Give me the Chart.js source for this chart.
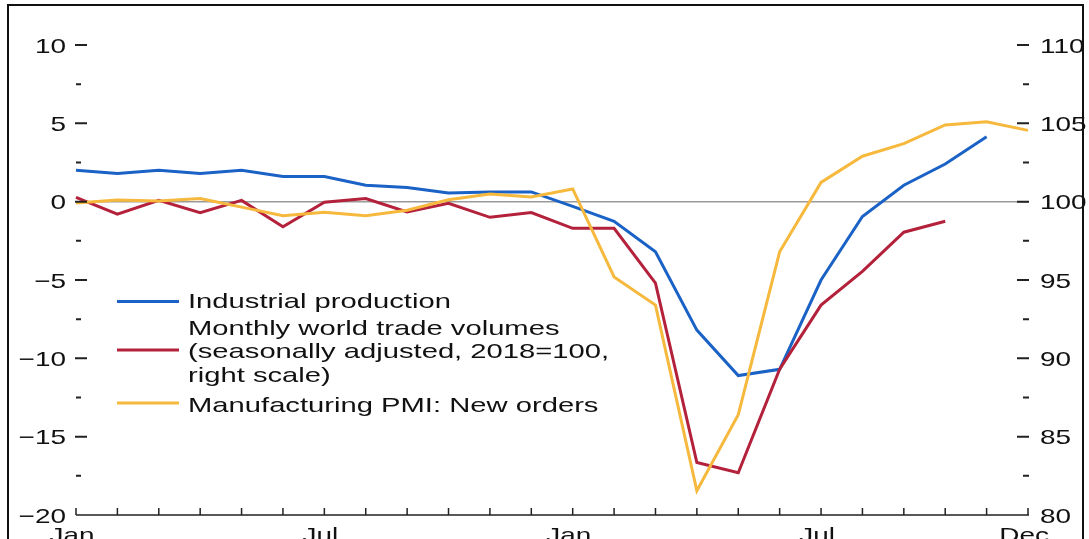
<!DOCTYPE html>
<html>
<head>
<meta charset="utf-8">
<script src="https://cdn.jsdelivr.net/npm/chart.js@4.4.1/dist/chart.umd.min.js"></script>
<style>
  html, body { margin: 0; padding: 0; background: #fff; overflow: hidden; }
  canvas { display: block; }
</style>
</head>
<body>
<canvas id="chart" width="1089" height="539"></canvas>
<script>
// Months, Jan. 2019 .. Dec. 2020
const months = [
  "2019-01", "2019-02", "2019-03", "2019-04", "2019-05", "2019-06",
  "2019-07", "2019-08", "2019-09", "2019-10", "2019-11", "2019-12",
  "2020-01", "2020-02", "2020-03", "2020-04", "2020-05", "2020-06",
  "2020-07", "2020-08", "2020-09", "2020-10", "2020-11", "2020-12"
];
const xTickLabels = { 0: "Jan.", 6: "Jul.", 12: "Jan.", 18: "Jul.", 23: "Dec." };

// left scale
const industrialProduction = [
  2.0, 1.8, 2.0, 1.8, 2.0, 1.6, 1.6, 1.05, 0.9, 0.55, 0.62, 0.62,
  -0.3, -1.26, -3.2, -8.2, -11.1, -10.7, -5.0, -0.95, 1.05, 2.4, 4.15, null
];
const pmiNewOrders = [
  -0.08, 0.1, 0.05, 0.2, -0.35, -0.9, -0.68, -0.9, -0.55, 0.12, 0.49, 0.3,
  0.81, -4.8, -6.6, -18.45, -13.6, -3.2, 1.23, 2.9, 3.7, 4.9, 5.1, 4.55
];
// right scale
const tradeVolumes = [
  100.27, 99.2, 100.08, 99.3, 100.08, 98.4, 99.96, 100.2, 99.34, 99.9, 99.0, 99.3,
  98.3, 98.3, 94.8, 83.35, 82.7, 89.3, 93.4, 95.55, 98.05, 98.75, null, null
];

const leftTicks = [10, 5, 0, -5, -10, -15, -20];
const rightTicks = [110, 105, 100, 95, 90, 85, 80];

const BLUE = "#1b62c6";
const RED = "#b3213b";
const YELLOW = "#f6b93d";
const TEXT = "#111";
const FONT = "21px 'Liberation Sans', Arial, sans-serif";
const TICK_STRETCH = 1.33;
const LEGEND_STRETCH = 1.39;

const legendItems = [
  { color: BLUE, lineY: 301.5, lines: [["Industrial production", 308]] },
  { color: RED, lineY: 350, lines: [
      ["Monthly world trade volumes", 335],
      ["(seasonally adjusted, 2018=100,", 358],
      ["right scale)", 382]
  ] },
  { color: YELLOW, lineY: 403, lines: [["Manufacturing PMI: New orders", 412]] }
];

function wideText(ctx, text, x, y, align, sx) {
  ctx.save();
  ctx.translate(x, y);
  ctx.scale(sx, 1);
  ctx.textAlign = align;
  ctx.textBaseline = "alphabetic";
  ctx.fillText(text, 0, 0);
  ctx.restore();
}

const decorPlugin = {
  id: "decor",
  beforeDraw(chart) {
    const ctx = chart.ctx;
    ctx.save();
    ctx.fillStyle = "#fff";
    ctx.fillRect(0, 0, chart.width, chart.height);
    ctx.restore();
  },
  beforeDatasetsDraw(chart) {
    // zero line
    const ctx = chart.ctx;
    const a = chart.chartArea;
    const y0 = chart.scales.y.getPixelForValue(0);
    ctx.save();
    ctx.strokeStyle = "#9a9a9a";
    ctx.lineWidth = 1.5;
    ctx.beginPath();
    ctx.moveTo(a.left, y0);
    ctx.lineTo(a.right, y0);
    ctx.stroke();
    ctx.restore();
  },
  afterDraw(chart) {
    const ctx = chart.ctx;
    const a = chart.chartArea;
    const x = chart.scales.x, y = chart.scales.y, y1 = chart.scales.y1;
    ctx.save();

    // x axis line and inward ticks
    ctx.strokeStyle = "#222";
    ctx.lineWidth = 1.5;
    ctx.beginPath();
    ctx.moveTo(a.left, a.bottom);
    ctx.lineTo(a.right + 1, a.bottom);
    months.forEach((m, i) => {
      const px = x.getPixelForValue(i);
      ctx.moveTo(px, a.bottom);
      ctx.lineTo(px, a.bottom - 7);
    });
    ctx.stroke();

    // y dashes (major + minor), both sides
    ctx.lineWidth = 2;
    ctx.beginPath();
    for (let v = -17.5; v <= 10; v += 2.5) {
      const major = v % 5 === 0;
      const py = y.getPixelForValue(v);
      ctx.moveTo(a.left + (major ? -1 : 0), py);
      ctx.lineTo(a.left + (major ? 11 : 5), py);
      ctx.moveTo(a.right + 1 - (major ? 12 : 6), py);
      ctx.lineTo(a.right + 1, py);
    }
    ctx.stroke();

    // tick labels
    ctx.fillStyle = TEXT;
    ctx.font = FONT;
    leftTicks.forEach(v => {
      const lbl = v < 0 ? "\u2212" + Math.abs(v) : String(v);
      wideText(ctx, lbl, a.left - 10, y.getPixelForValue(v) + 7.5, "right", TICK_STRETCH);
    });
    rightTicks.forEach(v => {
      wideText(ctx, String(v), a.right + 12, y1.getPixelForValue(v) + 7.5, "left", TICK_STRETCH);
    });
    Object.keys(xTickLabels).forEach(i => {
      wideText(ctx, xTickLabels[i], x.getPixelForValue(+i), a.bottom + 27, "center", TICK_STRETCH);
    });

    // legend
    legendItems.forEach(item => {
      ctx.strokeStyle = item.color;
      ctx.lineWidth = 3;
      ctx.beginPath();
      ctx.moveTo(117, item.lineY);
      ctx.lineTo(179, item.lineY);
      ctx.stroke();
      item.lines.forEach(([t, by]) => wideText(ctx, t, 188, by, "left", LEGEND_STRETCH));
    });

    // outer frame
    ctx.strokeStyle = "#111";
    ctx.lineWidth = 2;
    ctx.strokeRect(8, 5, 1075, 560);
    ctx.restore();
  }
};

function lineDs(label, data, color, axis) {
  return {
    label: label,
    data: data,
    yAxisID: axis,
    borderColor: color,
    backgroundColor: color,
    borderWidth: 3,
    pointRadius: 0,
    tension: 0,
    fill: false,
    spanGaps: false
  };
}

new Chart(document.getElementById("chart"), {
  type: "line",
  data: {
    labels: months,
    datasets: [
      lineDs("Manufacturing PMI: New orders", pmiNewOrders, YELLOW, "y"),
      lineDs("Monthly world trade volumes", tradeVolumes, RED, "y1"),
      lineDs("Industrial production", industrialProduction, BLUE, "y")
    ]
  },
  options: {
    responsive: false,
    animation: false,
    layout: { padding: { left: 8, top: 45, right: 0, bottom: 0 } },
    plugins: { legend: { display: false }, tooltip: { enabled: false } },
    scales: {
      x: {
        type: "category",
        offset: false,
        grid: { display: false },
        border: { display: false },
        ticks: { display: false },
        afterFit: s => { s.height = 24; }
      },
      y: {
        position: "left",
        min: -20, max: 10,
        grid: { display: false },
        border: { display: false },
        ticks: { display: false, stepSize: 5 },
        afterFit: s => { s.width = 68; }
      },
      y1: {
        position: "right",
        min: 80, max: 110,
        grid: { display: false },
        border: { display: false },
        ticks: { display: false, stepSize: 5 },
        afterFit: s => { s.width = 61; }
      }
    }
  },
  plugins: [decorPlugin]
});
</script>
</body>
</html>
